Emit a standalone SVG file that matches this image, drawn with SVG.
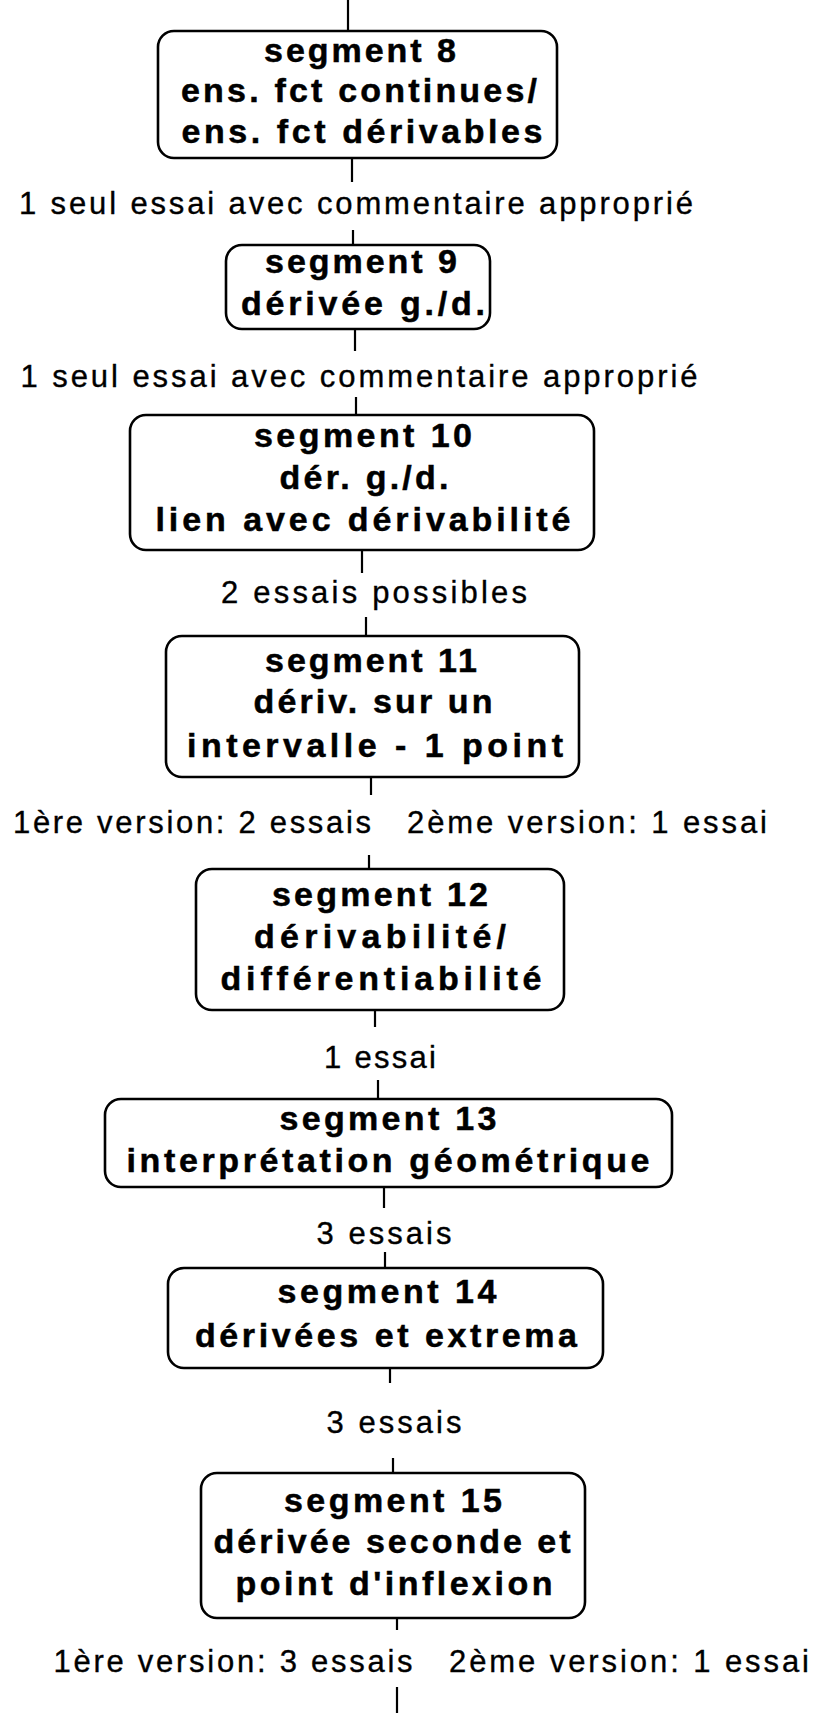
<svg xmlns="http://www.w3.org/2000/svg" width="814" height="1713" viewBox="0 0 814 1713">
  <style>
    .box { fill: #ffffff; stroke: #000000; stroke-width: 2.6; }
    .link { stroke: #000000; stroke-width: 2.2; fill: none; }
    .t { font-family: "Liberation Sans", Arial, sans-serif; font-weight: bold; font-size: 34px; fill: #000000; stroke: #000000; stroke-width: 0.5; text-anchor: middle; }
    .lbl { font-family: "Liberation Sans", Arial, sans-serif; font-size: 31px; fill: #000000; stroke: #000000; stroke-width: 0.35; text-anchor: middle; }
  </style>
  <rect x="0" y="0" width="814" height="1713" fill="#ffffff"/>

  <!-- vertical links between segments -->
  <g id="connectors">
    <line class="link" x1="348" y1="0" x2="348" y2="31"/>
    <line class="link" x1="352" y1="158" x2="352" y2="182"/>
    <line class="link" x1="353" y1="230" x2="353" y2="245"/>
    <line class="link" x1="355" y1="329" x2="355" y2="351"/>
    <line class="link" x1="356" y1="397" x2="356" y2="415"/>
    <line class="link" x1="362" y1="550" x2="362" y2="573"/>
    <line class="link" x1="366" y1="617" x2="366" y2="636"/>
    <line class="link" x1="371" y1="777" x2="371" y2="795"/>
    <line class="link" x1="369" y1="855" x2="369" y2="869"/>
    <line class="link" x1="375" y1="1010" x2="375" y2="1027"/>
    <line class="link" x1="378" y1="1080" x2="378" y2="1099"/>
    <line class="link" x1="384" y1="1187" x2="384" y2="1208"/>
    <line class="link" x1="385" y1="1252" x2="385" y2="1268"/>
    <line class="link" x1="390" y1="1368" x2="390" y2="1383"/>
    <line class="link" x1="393" y1="1458" x2="393" y2="1473"/>
    <line class="link" x1="397" y1="1618" x2="397" y2="1630"/>
    <line class="link" x1="397" y1="1687" x2="397" y2="1713"/>
  </g>

  <!-- labels on the links -->
  <g id="link-labels">
    <text class="lbl" x="356" y="214" textLength="674" lengthAdjust="spacing">1 seul essai avec commentaire approprié</text>
    <text class="lbl" x="359" y="387" textLength="677" lengthAdjust="spacing">1 seul essai avec commentaire approprié</text>
    <text class="lbl" x="374" y="603" textLength="306" lengthAdjust="spacing">2 essais possibles</text>
    <text class="lbl" x="192" y="833" textLength="358" lengthAdjust="spacing">1ère version: 2 essais</text>
    <text class="lbl" x="587" y="833" textLength="360" lengthAdjust="spacing">2ème version: 1 essai</text>
    <text class="lbl" x="380" y="1068" textLength="112" lengthAdjust="spacing">1 essai</text>
    <text class="lbl" x="384" y="1244" textLength="135" lengthAdjust="spacing">3 essais</text>
    <text class="lbl" x="394" y="1433" textLength="135" lengthAdjust="spacing">3 essais</text>
    <text class="lbl" x="233" y="1672" textLength="359" lengthAdjust="spacing">1ère version: 3 essais</text>
    <text class="lbl" x="629" y="1672" textLength="360" lengthAdjust="spacing">2ème version: 1 essai</text>
  </g>

  <g id="segment-8">
    <rect class="box" x="158" y="31" width="399" height="127" rx="16" ry="16"/>
    <text class="t" x="360" y="62" textLength="192" lengthAdjust="spacing">segment 8</text>
    <text class="t" x="359" y="102" textLength="356" lengthAdjust="spacing">ens. fct continues/</text>
    <text class="t" x="362" y="143" textLength="361" lengthAdjust="spacing">ens. fct dérivables</text>
  </g>

  <g id="segment-9">
    <rect class="box" x="226" y="245" width="264" height="84" rx="16" ry="16"/>
    <text class="t" x="361" y="273" textLength="192" lengthAdjust="spacing">segment 9</text>
    <text class="t" x="363" y="315" textLength="244" lengthAdjust="spacing">dérivée g./d.</text>
  </g>

  <g id="segment-10">
    <rect class="box" x="130" y="415" width="464" height="135" rx="16" ry="16"/>
    <text class="t" x="363" y="447" textLength="218" lengthAdjust="spacing">segment 10</text>
    <text class="t" x="364" y="489" textLength="169" lengthAdjust="spacing">dér. g./d.</text>
    <text class="t" x="363" y="531" textLength="415" lengthAdjust="spacing">lien avec dérivabilité</text>
  </g>

  <g id="segment-11">
    <rect class="box" x="166" y="636" width="413" height="141" rx="16" ry="16"/>
    <text class="t" x="371" y="672" textLength="212" lengthAdjust="spacing">segment 11</text>
    <text class="t" x="373" y="713" textLength="239" lengthAdjust="spacing">dériv. sur un</text>
    <text class="t" x="375" y="757" textLength="376" lengthAdjust="spacing">intervalle - 1 point</text>
  </g>

  <g id="segment-12">
    <rect class="box" x="196" y="869" width="368" height="141" rx="16" ry="16"/>
    <text class="t" x="380" y="906" textLength="216" lengthAdjust="spacing">segment 12</text>
    <text class="t" x="380" y="948" textLength="252" lengthAdjust="spacing">dérivabilité/</text>
    <text class="t" x="381" y="990" textLength="321" lengthAdjust="spacing">différentiabilité</text>
  </g>

  <g id="segment-13">
    <rect class="box" x="105" y="1099" width="567" height="88" rx="16" ry="16"/>
    <text class="t" x="388" y="1130" textLength="217" lengthAdjust="spacing">segment 13</text>
    <text class="t" x="388" y="1172" textLength="523" lengthAdjust="spacing">interprétation géométrique</text>
  </g>

  <g id="segment-14">
    <rect class="box" x="168" y="1268" width="435" height="100" rx="16" ry="16"/>
    <text class="t" x="387" y="1303" textLength="219" lengthAdjust="spacing">segment 14</text>
    <text class="t" x="386" y="1347" textLength="382" lengthAdjust="spacing">dérivées et extrema</text>
  </g>

  <g id="segment-15">
    <rect class="box" x="201" y="1473" width="384" height="145" rx="16" ry="16"/>
    <text class="t" x="393" y="1512" textLength="218" lengthAdjust="spacing">segment 15</text>
    <text class="t" x="392" y="1553" textLength="357" lengthAdjust="spacing">dérivée seconde et</text>
    <text class="t" x="394" y="1595" textLength="317" lengthAdjust="spacing">point d'inflexion</text>
  </g>
</svg>
